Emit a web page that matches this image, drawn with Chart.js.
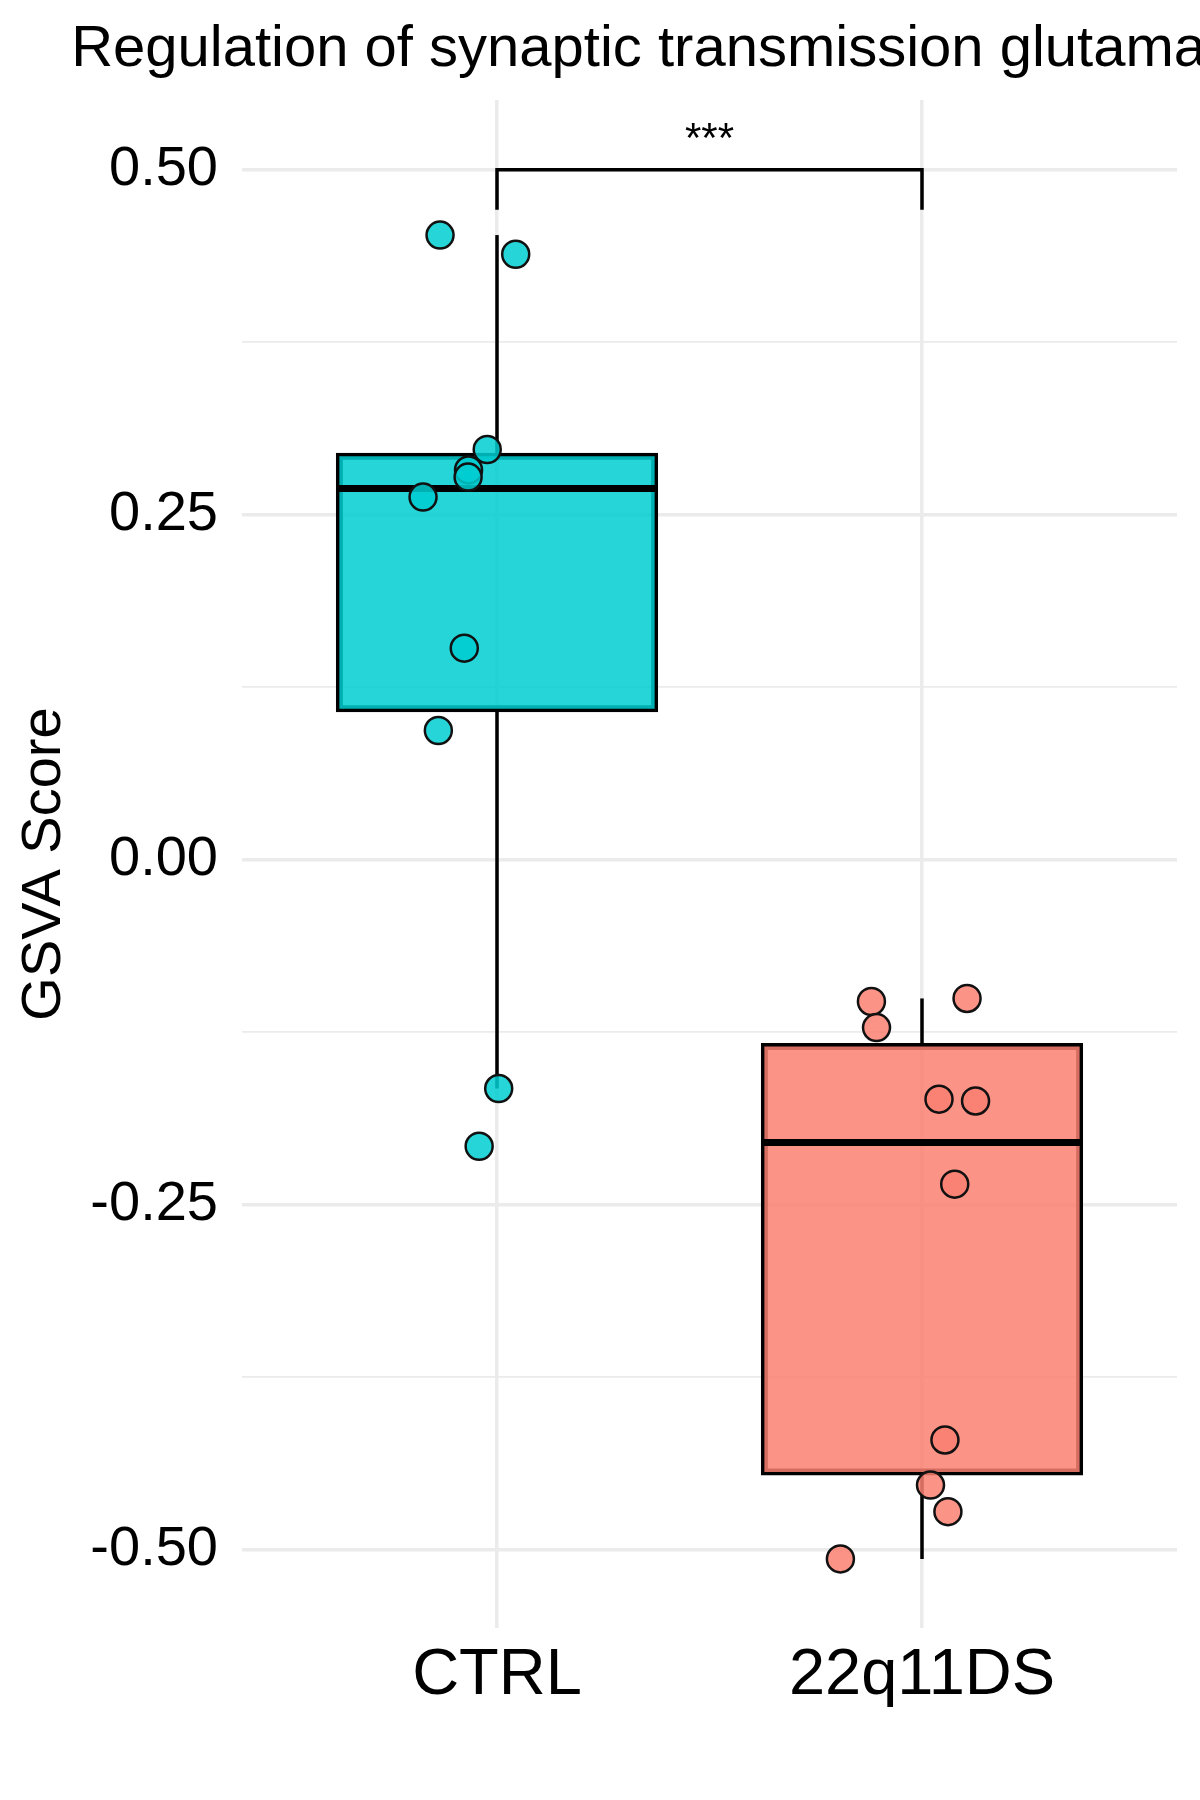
<!DOCTYPE html>
<html>
<head>
<meta charset="utf-8">
<script src="https://cdn.jsdelivr.net/npm/chart.js@4/dist/chart.umd.min.js"></script>
<style>
  html, body { margin: 0; padding: 0; background: #ffffff; }
  #wrap { width: 1200px; height: 1800px; }
</style>
</head>
<body>
<div id="wrap"><canvas id="c" width="1200" height="1800"></canvas></div>
<script>
// ---------------- data ----------------
const chartTitle = 'Regulation of synaptic transmission glutamatergic';
const yAxisTitle = 'GSVA Score';
const categories = ['CTRL', '22q11DS'];

const ctrlValues = [0.4526, 0.4387, 0.2972, 0.2824, 0.2772, 0.2627, 0.1532, 0.0935, -0.1660, -0.2078];
const ctrlJitter = [-0.134, 0.044, -0.023, -0.067, -0.068, -0.174, -0.077, -0.138, 0.004, -0.042];

const dsValues = [-0.1029, -0.1007, -0.1218, -0.1737, -0.1750, -0.2353, -0.4207, -0.4534, -0.4727, -0.5069];
const dsJitter = [-0.119, 0.106, -0.107, 0.040, 0.126, 0.077, 0.054, 0.020, 0.061, -0.192];

const boxQ1 = [0.1080, -0.4452];
const boxMedian = [0.2690, -0.2051];
const boxQ3 = [0.2935, -0.1342];
const whiskerLow = [-0.1660, -0.5069];
const whiskerHigh = [0.4526, -0.1007];

const yMajorTicks = [-0.50, -0.25, 0.00, 0.25, 0.50];
const yMinorTicks = [-0.375, -0.125, 0.125, 0.375];

const bracketY = 0.50;
const bracketTipY = 0.471;
const sigLabel = '***';

// ---------------- style ----------------
const FONT = "'Liberation Sans', Arial, Helvetica, sans-serif";
const BOX_WIDTH = 0.75;
const LW = 3.5;
const boxFill = ['rgba(0,206,209,0.85)', 'rgba(250,128,114,0.85)'];
const pointFill = ['rgba(0,206,209,0.85)', 'rgba(250,128,114,0.85)'];
const GRID = '#EBEBEB';

const groupValues = [ctrlValues, dsValues];
const groupJitter = [ctrlJitter, dsJitter];

const datasets = [];

// jittered points (top)
groupValues.forEach((vals, g) => {
  datasets.push({
    type: 'scatter',
    data: vals.map((v, i) => ({ x: g + 1 + groupJitter[g][i], y: v })),
    pointRadius: 13.5,
    pointBorderWidth: 2.5,
    pointBackgroundColor: pointFill[g],
    pointBorderColor: '#111111',
    showLine: false,
    order: 1
  });
});

// significance bracket
datasets.push({
  type: 'line',
  data: [
    { x: 1, y: bracketTipY }, { x: 1, y: bracketY },
    { x: 2, y: bracketY }, { x: 2, y: bracketTipY }
  ],
  borderColor: '#000000',
  borderWidth: LW,
  pointRadius: 0,
  fill: false,
  tension: 0,
  borderCapStyle: 'butt',
  borderJoinStyle: 'miter',
  order: 0
});

// medians
categories.forEach((c, g) => {
  datasets.push({
    type: 'line',
    data: [{ x: g + 1 - BOX_WIDTH / 2, y: boxMedian[g] }, { x: g + 1 + BOX_WIDTH / 2, y: boxMedian[g] }],
    borderColor: '#000000',
    borderWidth: LW * 2,
    borderCapStyle: 'butt',
    pointRadius: 0,
    fill: false,
    order: 2
  });
});

// boxes
datasets.push({
  type: 'bar',
  data: categories.map((c, g) => ({ x: g + 1, y: [boxQ1[g], boxQ3[g]] })),
  backgroundColor: boxFill,
  borderColor: '#000000',
  borderWidth: LW,
  borderSkipped: false,
  inflateAmount: LW / 2,
  grouped: false,
  categoryPercentage: 1,
  barPercentage: BOX_WIDTH,
  order: 3
});

// whiskers
categories.forEach((c, g) => {
  [[boxQ3[g], whiskerHigh[g]], [boxQ1[g], whiskerLow[g]]].forEach(seg => {
    datasets.push({
      type: 'line',
      data: [{ x: g + 1, y: seg[0] }, { x: g + 1, y: seg[1] }],
      borderColor: '#000000',
      borderWidth: LW,
      borderCapStyle: 'butt',
      pointRadius: 0,
      fill: false,
      order: 4
    });
  });
});

const textPlugin = {
  id: 'textPlugin',
  afterDatasetsDraw(chart) {
    const { ctx, chartArea, scales } = chart;
    ctx.save();
    ctx.fillStyle = '#000000';
    ctx.font = '58px ' + FONT;
    ctx.textAlign = 'center';
    ctx.textBaseline = 'alphabetic';
    ctx.fillText(chartTitle, (chartArea.left + chartArea.right) / 2, chartArea.top - 34);
    ctx.font = '42px ' + FONT;
    const sx = (scales.x.getPixelForValue(1) + scales.x.getPixelForValue(2)) / 2;
    ctx.fillText(sigLabel, sx, scales.y.getPixelForValue(bracketY) - 18);
    ctx.restore();
  }
};

new Chart(document.getElementById('c'), {
  type: 'scatter',
  data: { datasets },
  options: {
    responsive: false,
    animation: false,
    devicePixelRatio: 1,
    layout: { padding: { left: 10, right: 23, top: 100, bottom: 52 } },
    plugins: {
      legend: { display: false },
      tooltip: { enabled: false },
      title: { display: false }
    },
    scales: {
      x: {
        type: 'linear',
        min: 0.4,
        max: 2.6,
        offset: false,
        afterFit(scale) { scale.height = 120; },
        afterBuildTicks(scale) { scale.ticks = categories.map((c, i) => ({ value: i + 1 })); },
        ticks: {
          autoSkip: false,
          maxRotation: 0,
          padding: 9,
          color: '#000000',
          font: { family: FONT, size: 65 },
          callback: (v) => categories[Math.round(v) - 1] || ''
        },
        grid: { color: GRID, lineWidth: 3.5, drawTicks: false, offset: false },
        border: { display: false }
      },
      y: {
        type: 'linear',
        min: -0.557,
        max: 0.5505,
        afterFit(scale) { scale.width = 232; },
        afterBuildTicks(scale) {
          scale.ticks = yMajorTicks.concat(yMinorTicks).sort((a, b) => a - b).map(v => ({ value: v }));
        },
        ticks: {
          autoSkip: false,
          padding: 24,
          color: '#000000',
          font: { family: FONT, size: 56 },
          callback: (v) => yMajorTicks.some(t => Math.abs(t - v) < 1e-9) ? v.toFixed(2) : ''
        },
        grid: {
          color: GRID,
          drawTicks: false,
          lineWidth: (ctx) => (ctx.tick && yMajorTicks.some(t => Math.abs(t - ctx.tick.value) < 1e-9)) ? 3.5 : 1.8
        },
        border: { display: false },
        title: {
          display: true,
          text: yAxisTitle,
          color: '#000000',
          font: { family: FONT, size: 56 },
          padding: { top: 1, bottom: 0 }
        }
      }
    }
  },
  plugins: [textPlugin]
});
</script>
</body>
</html>
